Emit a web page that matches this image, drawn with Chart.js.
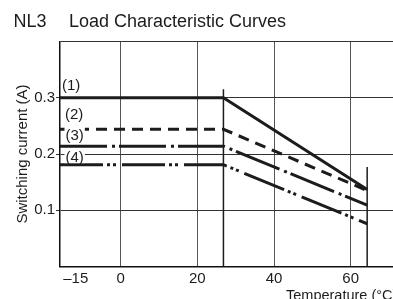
<!DOCTYPE html>
<html><head><meta charset="utf-8">
<script src="https://cdn.jsdelivr.net/npm/chart.js@4/dist/chart.umd.min.js"></script>
<style>html,body{margin:0;padding:0;background:#fff;overflow:hidden}</style>
</head><body>
<canvas id="c" width="393" height="299"></canvas>
<script>
// ---- data ----
const chartTitle = ['NL3', 'Load Characteristic Curves'];
const seriesNames = ['(1)', '(2)', '(3)', '(4)'];
const startTemp = -15.84;
const kneeTemp = 26.8;
const endTemp = 64.3;
const ratedCurrent = [0.300, 0.244, 0.214, 0.181];
const endCurrent = [0.137, 0.135, 0.109, 0.076];
const kneeMarkerTop = 0.315;
const endMarkerTop = 0.177;
const xTickValues = [-15, 0, 20, 40, 60];
const xTickLabels = ['–15', '0', '20', '40', '60'];
const yTickValues = [0, 0.1, 0.2, 0.3, 0.4];
const yTickLabels = ['', '0.1', '0.2', '0.3', ''];
const xTitle = 'Temperature (°C)';
const yTitle = 'Switching current (A)';
const xMin = -15.84, xMax = 71.04, yMin = 0, yMax = 0.4;

// ---- styling ----
const FONT = "'Liberation Sans', Arial, Helvetica, sans-serif";
const INK = '#1c1c1c';
const dashes = [[], [11, 7], [47, 5, 3, 4], [43, 4, 3, 3, 3, 6]];
const labelLift = [7.5, 10.5, 6.5, 2.5];
const labelShift = [2, 5, 5.5, 5.5];

Chart.defaults.font.family = FONT;
Chart.defaults.color = INK;

const datasets = seriesNames.map((name, i) => ({
  label: name,
  data: [
    {x: startTemp, y: ratedCurrent[i]},
    {x: kneeTemp, y: ratedCurrent[i]},
    {x: endTemp, y: endCurrent[i]}
  ],
  borderColor: INK,
  borderWidth: 3,
  borderDash: dashes[i],
  borderCapStyle: 'butt',
  borderJoinStyle: 'miter',
  pointRadius: 0,
  tension: 0,
  fill: false
}));
datasets.push({
  label: 'knee',
  data: [{x: kneeTemp, y: 0}, {x: kneeTemp, y: kneeMarkerTop}],
  borderColor: INK, borderWidth: 1.5, pointRadius: 0, fill: false
});
datasets.push({
  label: 'end',
  data: [{x: endTemp, y: 0}, {x: endTemp, y: endMarkerTop}],
  borderColor: INK, borderWidth: 1.5, pointRadius: 0, fill: false
});

const textPlugin = {
  id: 'texts',
  afterDatasetsDraw(chart) {
    const {ctx, chartArea, scales: {y}} = chart;
    ctx.save();
    ctx.font = '15px ' + FONT;
    ctx.textBaseline = 'alphabetic';
    seriesNames.forEach((n, i) => {
      const ly = y.getPixelForValue(ratedCurrent[i]);
      const bx = chartArea.left + labelShift[i];
      const by = ly - labelLift[i];
      const w = ctx.measureText(n).width;
      const top = by - 13;
      const bottom = Math.min(by + 2, ly - 1.6);
      ctx.fillStyle = '#fff';
      ctx.fillRect(bx - 1, top, w + 2, bottom - top);
      ctx.fillStyle = INK;
      ctx.fillText(n, bx, by);
    });
    ctx.restore();
  },
  afterDraw(chart) {
    const {ctx} = chart;
    ctx.save();
    ctx.fillStyle = INK;
    ctx.textBaseline = 'alphabetic';
    ctx.font = '18px ' + FONT;
    ctx.fillText(chartTitle[0], 13.5, 27);
    ctx.fillText(chartTitle[1], 69, 27);
    ctx.font = '14.5px ' + FONT;
    ctx.fillText(xTitle, 286, 299.5);
    ctx.restore();
  }
};

new Chart(document.getElementById('c'), {
  type: 'line',
  data: {datasets},
  plugins: [textPlugin],
  options: {
    responsive: false,
    animation: false,
    events: [],
    layout: {padding: {top: 41.5, left: 0, right: 0, bottom: 0}},
    plugins: {legend: {display: false}, tooltip: {enabled: false}},
    scales: {
      x: {
        type: 'linear', min: xMin, max: xMax,
        afterBuildTicks: s => { s.ticks = xTickValues.map(v => ({value: v})); },
        afterFit: s => { s.height = 32.5; },
        ticks: {
          autoSkip: false, maxRotation: 0, padding: 3,
          font: {size: 15}, color: INK,
          callback: (v) => {
            const i = xTickValues.indexOf(v);
            const t = i >= 0 ? xTickLabels[i] : '';
            return v === xTickValues[0] ? '\u00a0\u00a0\u00a0\u00a0\u00a0\u00a0' + t : t;
          }
        },
        grid: {
          drawTicks: false,
          lineWidth: 1,
          color: c => (c.tick && c.tick.value === xTickValues[0]) ? 'rgba(0,0,0,0)' : '#555'
        },
        border: {display: true, color: '#111', width: 1.5}
      },
      y: {
        type: 'linear', min: yMin, max: yMax,
        afterBuildTicks: s => { s.ticks = yTickValues.map(v => ({value: v})); },
        afterFit: s => { s.width = 60; },
        ticks: {
          autoSkip: false, padding: 1, font: {size: 15}, color: INK,
          callback: (v) => {
            const i = yTickValues.findIndex(t => Math.abs(t - v) < 1e-9);
            return i >= 0 ? yTickLabels[i] : '';
          }
        },
        grid: {
          drawTicks: true, tickLength: 4, lineWidth: 1, color: '#333',
          tickColor: c => (c.tick && (c.tick.value === yMin || c.tick.value === yMax)) ? 'rgba(0,0,0,0)' : '#333'
        },
        border: {display: true, color: '#111', width: 1.5},
        title: {display: true, text: yTitle, font: {size: 15}, color: INK, padding: {top: 14, bottom: 0}}
      }
    }
  }
});
</script>
</body></html>
